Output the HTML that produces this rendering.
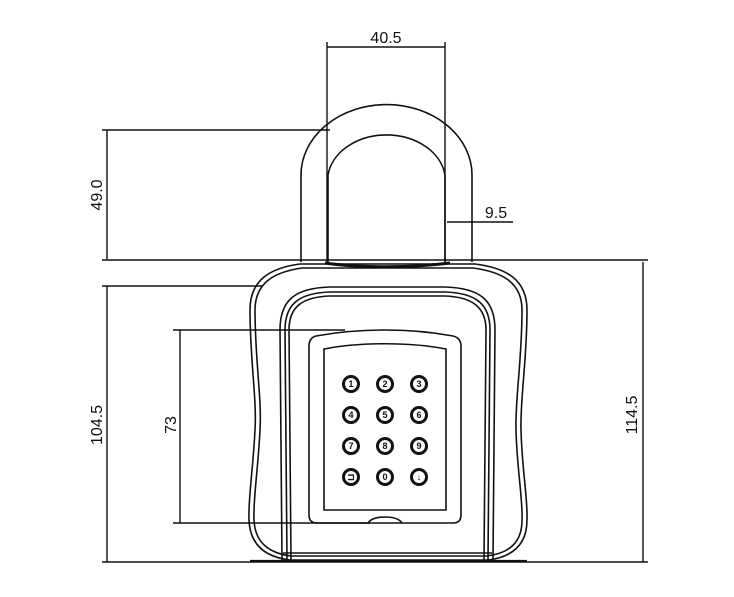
<!DOCTYPE html>
<html><head><style>
html,body{margin:0;padding:0;background:#fff;}
svg{display:block;}
text{font-family:"Liberation Sans",sans-serif;font-size:16px;fill:#111;}
</style></head><body>
<svg width="734" height="597" viewBox="0 0 734 597" xmlns="http://www.w3.org/2000/svg">
<g stroke="#111" fill="none" stroke-width="1.4">
<line x1="327" y1="42" x2="327" y2="262"/>
<line x1="445" y1="42" x2="445" y2="262"/>
<line x1="327" y1="47" x2="445" y2="47"/>
<line x1="102" y1="130" x2="330" y2="130"/>
<line x1="107" y1="130" x2="107" y2="259"/>
<line x1="102" y1="260" x2="648" y2="260"/>
<line x1="447" y1="222" x2="513" y2="222"/>
<line x1="102" y1="286" x2="262" y2="286"/>
<line x1="107" y1="286" x2="107" y2="562"/>
<line x1="102" y1="562" x2="648" y2="562"/>
<line x1="643" y1="262" x2="643" y2="562"/>
<line x1="173" y1="330" x2="345" y2="330"/>
<line x1="173" y1="523" x2="370" y2="523"/>
<line x1="180" y1="330" x2="180" y2="523"/>
<path d="M301 262 V175 A85 70 0 0 1 472 175 V262" stroke-width="1.6"/>
<path d="M328 262 V175 A59 46 0 0 1 445 175 V262" stroke-width="1.6"/>
<g stroke-width="1.6">
<path d="M300 264 C270 268 250 280 250 310 C250 360 257 400 255 430 C253 470 248 500 249 520 C250 545 265 557 290 560 L488 560 C512 557 527 545 527 520 C528 500 522 470 521 430 C520 400 527 360 527 310 C527 280 507 268 475 264 Z"/>
<path d="M302 268 C274 272 255 283 255 310 C255 360 262 400 260 430 C258 470 253 500 254 520 C255 542 268 553 291 556 L487 556 C510 553 522 542 522 520 C523 500 517 470 516 430 C515 400 522 360 522 310 C522 283 503 272 473 268 Z"/>
<path d="M325 263 C360 268 410 268 450 263" stroke-width="3"/>
<path d="M282 560 L280 330 C280 300 295 288 330 287 L445 287 C480 288 495 300 495 330 L493 560"/>
<path d="M287 560 L285 330 C285 304 299 293 330 292 L445 292 C476 293 490 304 490 330 L488 560"/>
<path d="M291 560 L289 330 C289 307 302 297 330 296 L445 296 C472 297 486 307 486 330 L484 560"/>
<line x1="283" y1="553" x2="492" y2="553"/>
<line x1="250" y1="561" x2="527" y2="561" stroke-width="2.2"/>
<path d="M316 336 C360 328 410 328 453 336 Q461 338 461 346 V515 Q461 523 453 523 H317 Q309 523 309 515 V346 Q309 338 316 336 Z"/>
<path d="M324 349 C360 342 410 342 446 349 V510 H324 Z"/>
<path d="M368 523 Q372 517 385 517 Q398 517 402 523"/>
</g>
</g>
<g stroke="#111" stroke-width="3" fill="#fff">
<circle cx="351" cy="384" r="7.5"/><circle cx="385" cy="384" r="7.5"/><circle cx="419" cy="384" r="7.5"/>
<circle cx="351" cy="415" r="7.5"/><circle cx="385" cy="415" r="7.5"/><circle cx="419" cy="415" r="7.5"/>
<circle cx="351" cy="446" r="7.5"/><circle cx="385" cy="446" r="7.5"/><circle cx="419" cy="446" r="7.5"/>
<circle cx="351" cy="477" r="7.5"/><circle cx="385" cy="477" r="7.5"/><circle cx="419" cy="477" r="7.5"/>
</g>
<g text-anchor="middle" font-weight="bold">
<text x="351" y="387" style="font-size:9px">1</text><text x="385" y="387" style="font-size:9px">2</text><text x="419" y="387" style="font-size:9px">3</text>
<text x="351" y="418" style="font-size:9px">4</text><text x="385" y="418" style="font-size:9px">5</text><text x="419" y="418" style="font-size:9px">6</text>
<text x="351" y="449" style="font-size:9px">7</text><text x="385" y="449" style="font-size:9px">8</text><text x="419" y="449" style="font-size:9px">9</text>
<text x="351" y="480" style="font-size:9px">⊐</text><text x="385" y="480" style="font-size:9px">0</text><text x="419" y="480" style="font-size:9px">↓</text>
</g>
<text x="386" y="43" text-anchor="middle">40.5</text>
<text x="496" y="218" text-anchor="middle">9.5</text>
<text transform="translate(102,195) rotate(-90)" text-anchor="middle">49.0</text>
<text transform="translate(102,425) rotate(-90)" text-anchor="middle">104.5</text>
<text transform="translate(176,425) rotate(-90)" text-anchor="middle">73</text>
<text transform="translate(637,415) rotate(-90)" text-anchor="middle">114.5</text>
</svg>
</body></html>
